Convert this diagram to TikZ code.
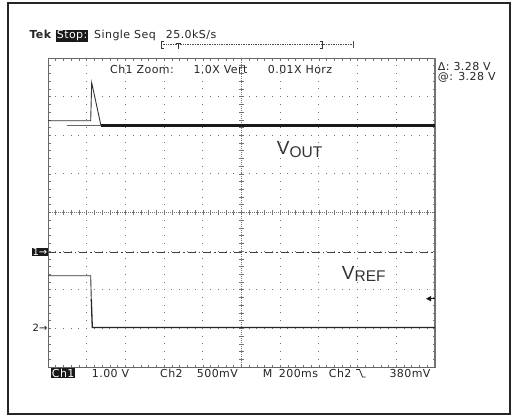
\documentclass[tikz,border=0pt]{standalone}
\usepackage{fontspec}
\newfontfamily\tekfont{DejaVu Sans}[LetterSpace=4]
\newfontfamily\symfont{DejaVu Sans}
\newfontfamily\labfont{Liberation Sans}
\begin{document}
\begin{tikzpicture}[x=1pt,y=-1pt,
  tek/.style={font=\tekfont\fontsize{11}{13}\selectfont, inner sep=0pt, anchor=base west, text=black!85},
  inv/.style={tek, fill=black!90, text=white, inner xsep=1pt, inner ysep=1pt},
  lab/.style={font=\labfont\fontsize{19}{19}\selectfont, inner sep=0pt, anchor=base west, text=black!80},
  gridc/.style={black!55},
  trace/.style={black!80, line width=0.9pt},
  bracket/.style={black!80, line width=0.6pt}
]
\useasboundingbox (0,0) rectangle (512,416);
\fill[white] (0,0) rectangle (512,416);
% outer frame
\draw[black!85, line width=1.4pt] (8,3) rectangle (510,414);

% graticule dots
\foreach \i in {1,2,3,4,6,7,8,9} {
  \foreach \j in {1,...,39} {
    \fill[gridc] ({48+\i*38.7-0.5},{58+\j*7.725-0.5}) rectangle ++(1,1);
  }
}
\foreach \k in {1,2,3,5,6,7} {
  \foreach \j in {1,...,49} {
    \fill[gridc] ({48+\j*7.74-0.5},{58+\k*38.625-0.5}) rectangle ++(1,1);
  }
}
% centre lines with ticks
\draw[gridc, line width=0.4pt, dash pattern=on 1pt off 1pt] (241.5,58) -- (241.5,367);
\draw[gridc, line width=0.4pt, dash pattern=on 1pt off 1pt] (48,212.5) -- (435,212.5);
\foreach \j in {1,...,39} \draw[gridc, line width=0.6pt] (239.3,{58+\j*7.725}) -- (243.7,{58+\j*7.725});
\foreach \j in {1,...,49} \draw[gridc, line width=0.6pt] ({48+\j*7.74},210.3) -- ({48+\j*7.74},214.7);
% border ticks
\foreach \j in {1,...,49} {
  \draw[gridc, line width=0.6pt] ({48+\j*7.74},58) -- ++(0,2.5);
  \draw[gridc, line width=0.6pt] ({48+\j*7.74},367) -- ++(0,-2.5);
}
\foreach \j in {1,...,39} {
  \draw[gridc, line width=0.6pt] (48,{58+\j*7.725}) -- ++(2.5,0);
  \draw[gridc, line width=0.6pt] (435,{58+\j*7.725}) -- ++(-2.5,0);
}
\draw[black!60, line width=0.7pt] (48,58) rectangle (435,367);
\draw[black!55, line width=1.6pt] (435,58) -- (435,367);

% Ch1 reference (dash-dot)
\draw[black!75, line width=0.7pt, dash pattern=on 8pt off 3pt on 1.5pt off 3pt] (48,252) -- (435,252);

% VOUT trace
\draw[trace] (48,120.7) -- (90.7,120.7) -- (91.7,82.7) -- (101,125.7);
\draw[black!60, line width=0.7pt] (66.7,125.7) -- (101,125.7);
\draw[black!90, line width=2.6pt] (101,125.7) -- (435,125.7);

% VREF trace
\draw[trace] (48,275.7) -- (90.7,275.7) -- (91.3,300) ;
\draw[black!85, line width=1.3pt] (91.3,299) -- (92.3,327.5) -- (435,327.5);

% trigger level arrow
\fill[black!90] (426,298.7) -- (431,296) -- (431,301.4) -- cycle;
\draw[black!90, line width=0.7pt] (430,298.7) -- (435,298.7);

% trigger position bracket
\draw[black!70, line width=0.4pt, dash pattern=on 1pt off 0.7pt] (161,44.5) -- (353.5,44.5);
\draw[bracket] (163.5,41) -- (161,41) -- (161,48) -- (163.5,48);
\draw[bracket] (175.5,43) -- (181,43);
\draw[bracket] (178.3,43) -- (178.3,48.5);
\draw[bracket, line width=0.9pt] (319.8,41) -- (322.3,41) -- (322.3,48) -- (319.8,48);
\draw[black!70, line width=0.5pt] (353.5,41) -- (353.5,48);

% top status line
\node[tek, font=\tekfont\bfseries\fontsize{11}{13}\selectfont] (tek) at (29.3,38.8) {Tek};
\node[inv] (stop) at (55.7,38.8) {Stop:};
\node[tek] (single) at (94,38.8) {Single Seq};
\node[tek] (rate) at (165.7,38.8) {25.0kS/s};

% zoom line
\node[tek] (chzoom) at (110,73) {Ch1 Zoom:};
\node[tek] (vert) at (193.3,73) {1.0X Vert};
\node[tek] (horz) at (267.7,73) {0.01X Horz};

% cursor readouts
\node[tek] (delta) at (437.7,70.5) {Δ: 3.28 V};
\node[tek] (atv) at (437.7,80.5) {@: 3.28 V};

% channel markers
\node[font=\symfont\fontsize{10}{11}\selectfont, fill=black!90, text=white, inner xsep=0.6pt, inner ysep=0.7pt, text height=7pt, text depth=0pt, anchor=west] (m1) at (31.7,252) {1→};
\node[font=\symfont\fontsize{10}{11}\selectfont, text=black!90, inner sep=0pt, anchor=west] (m2) at (32.5,328) {2→};

% signal labels
\node[lab] (vout) at (276.7,154) {V\raisebox{-3pt}{\fontsize{15.5}{15.5}\selectfont OUT}};
\node[lab] (vref) at (341.7,279) {V\raisebox{-2.7pt}{\fontsize{15.5}{15.5}\selectfont REF}};

% bottom status line
\node[inv] (ch1) at (50.7,377) {Ch1};
\node[tek] (v100) at (91.7,377) {1.00 V};
\node[tek] (ch2) at (160,377) {Ch2};
\node[tek] (mv500) at (196.7,377) {500mV};
\node[tek] (m) at (262.7,377) {M};
\node[tek] (ms200) at (278.7,377) {200ms};
\node[tek] (ch2b) at (328.7,377) {Ch2};
\draw[black!85, line width=0.8pt] (356,369.5) -- (359.5,369.5) -- (362.5,377) -- (365.5,377);
\node[tek] (mv380) at (389.3,377) {380mV};
\end{tikzpicture}
\end{document}
